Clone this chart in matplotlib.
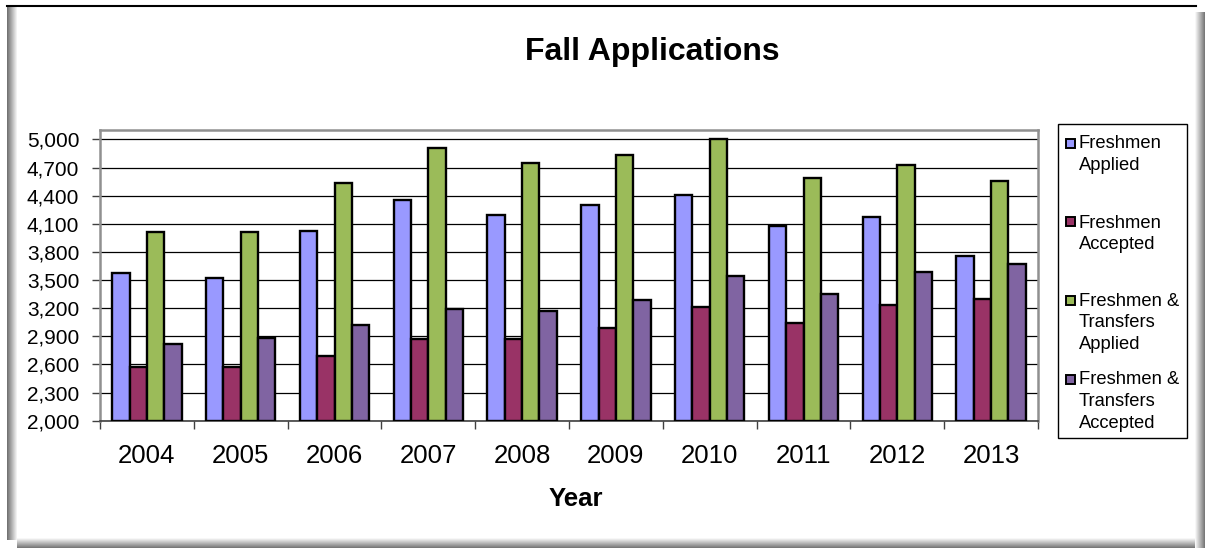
import matplotlib
matplotlib.use("Agg")
import matplotlib.pyplot as plt
from matplotlib.patches import Rectangle
from matplotlib.lines import Line2D
import numpy as np

plt.rcParams['font.family'] = ['Liberation Sans', 'DejaVu Sans']

years = ['2004', '2005', '2006', '2007', '2008', '2009', '2010', '2011', '2012', '2013']
fresh_applied = [3571, 3525, 4019, 4357, 4193, 4296, 4403, 4076, 4168, 3756]
fresh_accepted = [2569, 2569, 2693, 2871, 2871, 2988, 3209, 3038, 3230, 3294]
ft_applied = [4008, 4015, 4531, 4911, 4744, 4836, 5004, 4588, 4726, 4552]
ft_accepted = [2818, 2885, 3017, 3194, 3169, 3283, 3539, 3354, 3582, 3671]

series = [fresh_applied, fresh_accepted, ft_applied, ft_accepted]
labels = ['Freshmen\nApplied', 'Freshmen\nAccepted',
          'Freshmen &\nTransfers\nApplied', 'Freshmen &\nTransfers\nAccepted']
colors = ['#9999FF', '#993366', '#9BBB59', '#8064A2']
yticks = list(range(2000, 5001, 300))

W, H = 1205, 548
fig = plt.figure(figsize=(W / 100, H / 100), dpi=100)

def fx(x):
    return x / W

def fy(y):
    return 1 - y / H

ax = fig.add_axes([fx(100), fy(420.7), fx(1038) - fx(100), fy(130) - fy(420.7)])

x = np.arange(len(years))
bw = 0.185
for i, (vals, c) in enumerate(zip(series, colors)):
    ax.bar(x + (i - 1.5) * bw, np.array(vals) - 2000, bw, bottom=2000,
           color=c, edgecolor='black', linewidth=1.7, zorder=3)

ax.set_xlim(-0.5, len(years) - 0.5)
ax.set_ylim(2000, 5100)
ax.set_yticks(yticks)
ax.set_yticklabels([f'{v:,}' for v in yticks], fontsize=15)
ax.set_xticks(x)
ax.set_xticklabels(years, fontsize=18.5)
ax.set_xticks(np.arange(-0.5, len(years)), minor=True)
ax.tick_params(axis='x', which='major', length=0, pad=17)
ax.tick_params(axis='x', which='minor', length=6, width=1, color='#404040', direction='out')
ax.tick_params(axis='y', length=6, width=1, color='#404040', direction='out', pad=9)
ax.grid(axis='y', color='black', linewidth=0.9, zorder=0)
ax.set_axisbelow(True)
for s in ['left', 'top', 'right']:
    ax.spines[s].set_color('#909090')
    ax.spines[s].set_linewidth(1.8)
ax.spines['bottom'].set_color('#404040')
ax.spines['bottom'].set_linewidth(1.2)

fig.text(fx(652), fy(52), 'Fall Applications', fontsize=23, fontweight='bold',
         ha='center', va='center')
fig.text(fx(576), fy(499), 'Year', fontsize=18.5, fontweight='bold',
         ha='center', va='center')

# legend drawn by hand so that the keys sit on the first line of each label
fig.add_artist(Rectangle((fx(1058), fy(438)), fx(1187) - fx(1058), fy(124) - fy(438),
                         transform=fig.transFigure, facecolor='white',
                         edgecolor='black', linewidth=1))
first_line = [143, 222, 300, 379]
line_gap = 21.7
for lab, c, yc in zip(labels, colors, first_line):
    fig.add_artist(Rectangle((fx(1066), fy(yc + 4.5)), fx(9), fx(9) * W / H,
                             transform=fig.transFigure, facecolor=c,
                             edgecolor='black', linewidth=1.4))
    for j, part in enumerate(lab.split('\n')):
        fig.text(fx(1079), fy(yc + 1 + j * line_gap), part, fontsize=13.2,
                 ha='left', va='center')

# outer chart frame with shadow
fig.add_artist(Line2D([fx(7), fx(1196)], [fy(6), fy(6)], transform=fig.transFigure,
                      color='black', linewidth=1.5))
for k in range(10):
    g = 0.45 + 0.055 * k
    fig.add_artist(Rectangle((fx(7 + k), fy(540)), fx(1), fy(6) - fy(540),
                             transform=fig.transFigure, facecolor=(g, g, g),
                             edgecolor='none'))
    g2 = 0.97 - 0.055 * k
    fig.add_artist(Rectangle((fx(1195 + k), fy(548)), fx(1), fy(12) - fy(548),
                             transform=fig.transFigure, facecolor=(g2, g2, g2),
                             edgecolor='none'))
    fig.add_artist(Rectangle((fx(17), fy(538 + k + 1)), fx(1195) - fx(17), fx(1) * W / H,
                             transform=fig.transFigure, facecolor=(g2, g2, g2),
                             edgecolor='none'))

fig.savefig('out.png', dpi=100)
